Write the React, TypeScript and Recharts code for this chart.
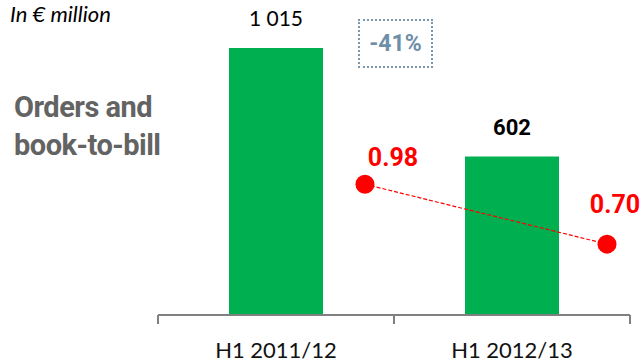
import React from "react";
import {
  ComposedChart,
  Bar,
  Line,
  XAxis,
  YAxis,
  LabelList,
} from "recharts";

// Half-year order intake (€ million) and book-to-bill ratio
const periods = ["H1 2011/12", "H1 2012/13"];
const orders = [1015, 602];
const bookToBill = [0.98, 0.7];

const GREEN = "#00B050";
const RED = "#FF0000";
const AXIS_GREY = "#808080";

const rows = periods.map((period, i) => ({
  period,
  orders: orders[i],
  ratio: bookToBill[i],
  slot: i,
}));

const change = Math.round(
  ((orders[orders.length - 1] - orders[0]) / orders[0]) * 100
);

const spaced = (v: number) =>
  String(v).replace(/\B(?=(\d{3})+(?!\d))/g, " ");

function OrdersLabel(props: any) {
  const { x, y, width, value, index } = props;
  const latest = index === orders.length - 1;
  return (
    <text
      x={x + width / 2}
      y={y - 22}
      textAnchor="middle"
      fill="#000"
      fontFamily={latest ? "Roboto" : "Lato"}
      fontWeight={latest ? 700 : 400}
      fontSize={latest ? 22 : 21}
    >
      {spaced(value)}
    </text>
  );
}

// ratio labels sit up and to the right of each dot
const ratioOffsets = [
  { dx: 28, dy: -18 },
  { dx: 8, dy: -31 },
];

function RatioLabel(props: any) {
  const { x, y, value, index } = props;
  const o = ratioOffsets[index] ?? ratioOffsets[0];
  return (
    <text
      x={x + o.dx}
      y={y + o.dy}
      textAnchor="middle"
      fill={RED}
      fontFamily="Roboto"
      fontWeight={700}
      fontSize={25}
    >
      {value.toFixed(2)}
    </text>
  );
}

// category label plus tick marks on the band edges (Excel style)
function PeriodTick(props: any) {
  const { x, payload, index } = props;
  const axisY = 315;
  const half = payload?.offset ?? 118;
  const edges = [x - half];
  if (index === periods.length - 1) edges.push(x + half);
  return (
    <g>
      {edges.map((ex) => (
        <line
          key={ex}
          x1={ex}
          x2={ex}
          y1={axisY}
          y2={axisY + 9}
          stroke={AXIS_GREY}
          strokeWidth={2}
        />
      ))}
      <text
        x={x}
        y={358}
        textAnchor="middle"
        fill="#111"
        fontSize={22}
        fontFamily="Lato"
      >
        {payload.value}
      </text>
    </g>
  );
}

export default function App() {
  return (
    <div
      style={{
        position: "absolute",
        left: 0,
        top: 0,
        width: 641,
        height: 363,
        background: "#fff",
        overflow: "hidden",
      }}
    >
      <div
        style={{
          position: "absolute",
          left: 10,
          top: 0,
          fontFamily: "Lato",
          fontStyle: "italic",
          fontSize: 22,
          color: "#000",
        }}
      >
        In € million
      </div>
      <div
        style={{
          position: "absolute",
          left: 14,
          top: 88,
          fontFamily: "Roboto",
          fontWeight: 700,
          fontSize: 29,
          lineHeight: "38px",
          color: "#636363",
          letterSpacing: -0.5,
        }}
      >
        Orders and
        <br />
        book-to-bill
      </div>
      <div
        style={{
          position: "absolute",
          left: 358,
          top: 19,
          width: 75,
          height: 49,
          boxSizing: "border-box",
          border: "2.5px dotted #7B97AE",
          display: "flex",
          alignItems: "center",
          justifyContent: "center",
          fontFamily: "Roboto",
          fontWeight: 700,
          fontSize: 23,
          color: "#6F8FA8",
        }}
      >
        {change}%
      </div>
      <ComposedChart
        width={641}
        height={363}
        data={rows}
        margin={{ top: 20, right: 11, left: 158, bottom: 0 }}
      >
        <XAxis
          xAxisId="cat"
          dataKey="period"
          height={48}
          axisLine={{ stroke: AXIS_GREY, strokeWidth: 2 }}
          tickLine={false}
          tick={PeriodTick}
        />
        <XAxis
          xAxisId="ratioX"
          type="number"
          dataKey="slot"
          domain={[-0.855, 1.095]}
          height={0}
          hide
          allowDataOverflow
        />
        <YAxis yAxisId="orders" domain={[0, 1121]} hide allowDataOverflow />
        <YAxis
          yAxisId="ratio"
          domain={[0.369, 1.747]}
          hide
          allowDataOverflow
        />
        <Bar
          xAxisId="cat"
          yAxisId="orders"
          dataKey="orders"
          fill={GREEN}
          barSize={94}
          isAnimationActive={false}
        >
          <LabelList dataKey="orders" content={OrdersLabel} />
        </Bar>
        <Line
          xAxisId="ratioX"
          yAxisId="ratio"
          dataKey="ratio"
          stroke={RED}
          strokeWidth={1.2}
          strokeDasharray="4 2"
          dot={{ r: 9.5, fill: RED, stroke: "none" }}
          activeDot={false}
          isAnimationActive={false}
        >
          <LabelList dataKey="ratio" content={RatioLabel} />
        </Line>
      </ComposedChart>
    </div>
  );
}
